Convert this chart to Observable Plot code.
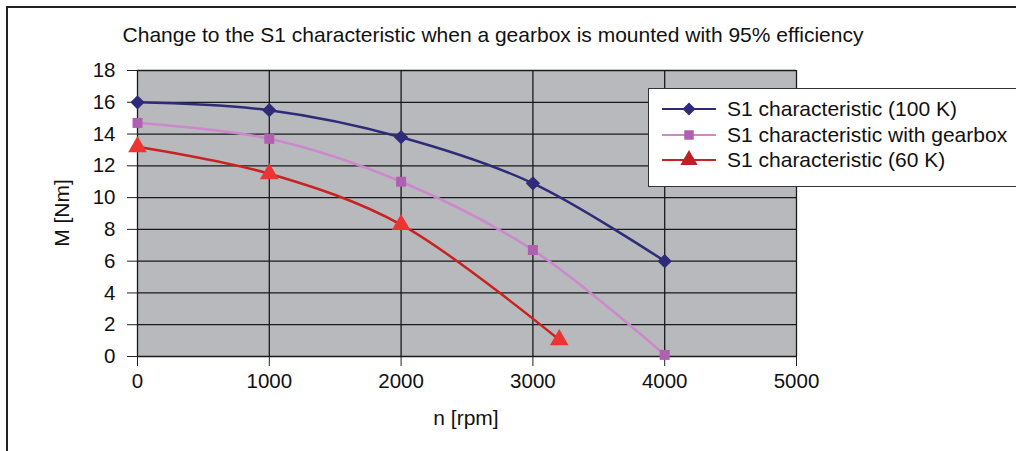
<!DOCTYPE html>
<html>
<head>
<meta charset="utf-8">
<script src="https://cdn.jsdelivr.net/npm/d3@7"></script>
<script src="https://cdn.jsdelivr.net/npm/@observablehq/plot@0.6"></script>
<style>
  html, body { margin: 0; padding: 0; background: #fff; overflow: hidden; width: 1016px; height: 451px; }
  #wrap { position: relative; width: 1016px; height: 451px; font-family: "Liberation Sans", Arial, sans-serif; color: #111; }
  #frame { position: absolute; left: 6px; top: 6px; width: 1100px; height: 520px; border: 2px solid #222; box-sizing: border-box; }
  #chart { position: absolute; left: 0; top: 0; }
  .lbl { position: absolute; font-size: 21px; white-space: nowrap; }
  #title { left: 0; width: 986px; top: 23px; text-align: center; }
  #ylab { left: 62px; top: 213px; transform: translate(-50%, -50%) rotate(-90deg); }
  #xlab { left: 466px; top: 418px; transform: translate(-50%, -50%); }
  #legend { position: absolute; left: 648px; top: 88px; width: 380px; height: 99px; background: #fff; border: 1.5px solid #333; box-sizing: border-box; }
  .row { position: absolute; left: 12px; height: 24px; display: flex; align-items: center; font-size: 21px; }
  .row svg { margin-right: 10px; }
  #chart svg text { font-size: 20.5px; }
</style>
</head>
<body>
<div id="wrap">
  <div id="frame"></div>
  <div id="chart"></div>
  <div class="lbl" id="title">Change to the S1 characteristic when a gearbox is mounted with 95% efficiency</div>
  <div class="lbl" id="ylab">M [Nm]</div>
  <div class="lbl" id="xlab">n [rpm]</div>
  <div id="legend"></div>
</div>
<script>
const seriesNames = ["S1 characteristic (100 K)", "S1 characteristic with gearbox", "S1 characteristic (60 K)"];
const rpm100 = [0, 1000, 2000, 3000, 4000];
const m100 = [16.0, 15.5, 13.8, 10.9, 6.0];
const rpmGear = [0, 1000, 2000, 3000, 4000];
const mGear = [14.7, 13.7, 11.0, 6.7, 0.1];
const rpm60 = [0, 1000, 2000, 3200];
const m60 = [13.2, 11.5, 8.3, 1.05];
const xTicks = [0, 1000, 2000, 3000, 4000, 5000];
const yTicks = [0, 2, 4, 6, 8, 10, 12, 14, 16, 18];

const lineColors = ["#2e2b78", "#cc88cc", "#c82222"];
const markColors = ["#2e2b78", "#b060b0", "#ee3333"];
const symbols = ["diamond2", "square", "triangle"];
const sizes = [130, 100, 150];

const toRows = (xs, ys) => xs.map((x, i) => ({x, y: ys[i]}));
const series = [toRows(rpm100, m100), toRows(rpmGear, mGear), toRows(rpm60, m60)];

const marks = [
  Plot.frame({fill: "#b8b9bd", stroke: "#444"}),
  Plot.gridX(xTicks, {stroke: "#1a1a1a", strokeOpacity: 1, strokeWidth: 1.3}),
  Plot.gridY(yTicks, {stroke: "#1a1a1a", strokeOpacity: 1, strokeWidth: 1.3}),
  Plot.axisX({ticks: xTicks, tickSize: 10, tickPadding: 7, tickFormat: d => String(d), label: null, stroke: "#222", fill: "#111"}),
  Plot.axisY({ticks: yTicks, tickSize: 10, tickPadding: 12, label: null, stroke: "#222", fill: "#111"})
];
series.forEach((rows, i) => {
  marks.push(Plot.line(rows, {x: "x", y: "y", curve: "catmull-rom", stroke: lineColors[i], strokeWidth: 2.5}));
  marks.push(Plot.dot(rows, {x: "x", y: "y", symbol: symbols[i], r: Math.sqrt(sizes[i] / Math.PI), fill: markColors[i], stroke: "none"}));
});

const chart = Plot.plot({
  width: 1016,
  height: 451,
  marginLeft: 137,
  marginRight: 220,
  marginTop: 70,
  marginBottom: 95,
  x: {domain: [0, 5000]},
  y: {domain: [0, 18]},
  style: {fontFamily: "'Liberation Sans', Arial, sans-serif", fontSize: "20.5px", background: "transparent", overflow: "visible"},
  marks
});
document.getElementById("chart").appendChild(chart);

// legend
const legend = document.getElementById("legend");
const legendSyms = [d3.symbolDiamond2, d3.symbolSquare, d3.symbolTriangle];
const legendMark = ["#2e2b78", "#b060b0", "#c01f2a"];
const legendSize = [110, 90, 130];
seriesNames.forEach((name, i) => {
  const row = document.createElement("div");
  row.className = "row";
  row.style.top = (8 + i * 25.5) + "px";
  const svg = d3.create("svg").attr("width", 56).attr("height", 24);
  svg.append("line").attr("x1", 1).attr("x2", 55).attr("y1", 12).attr("y2", 12).attr("stroke", lineColors[i]).attr("stroke-width", 2);
  svg.append("path").attr("transform", "translate(28,12)").attr("d", d3.symbol(legendSyms[i], legendSize[i])()).attr("fill", legendMark[i]);
  row.appendChild(svg.node());
  const t = document.createElement("span");
  t.textContent = name;
  row.appendChild(t);
  legend.appendChild(row);
});
</script>
</body>
</html>
